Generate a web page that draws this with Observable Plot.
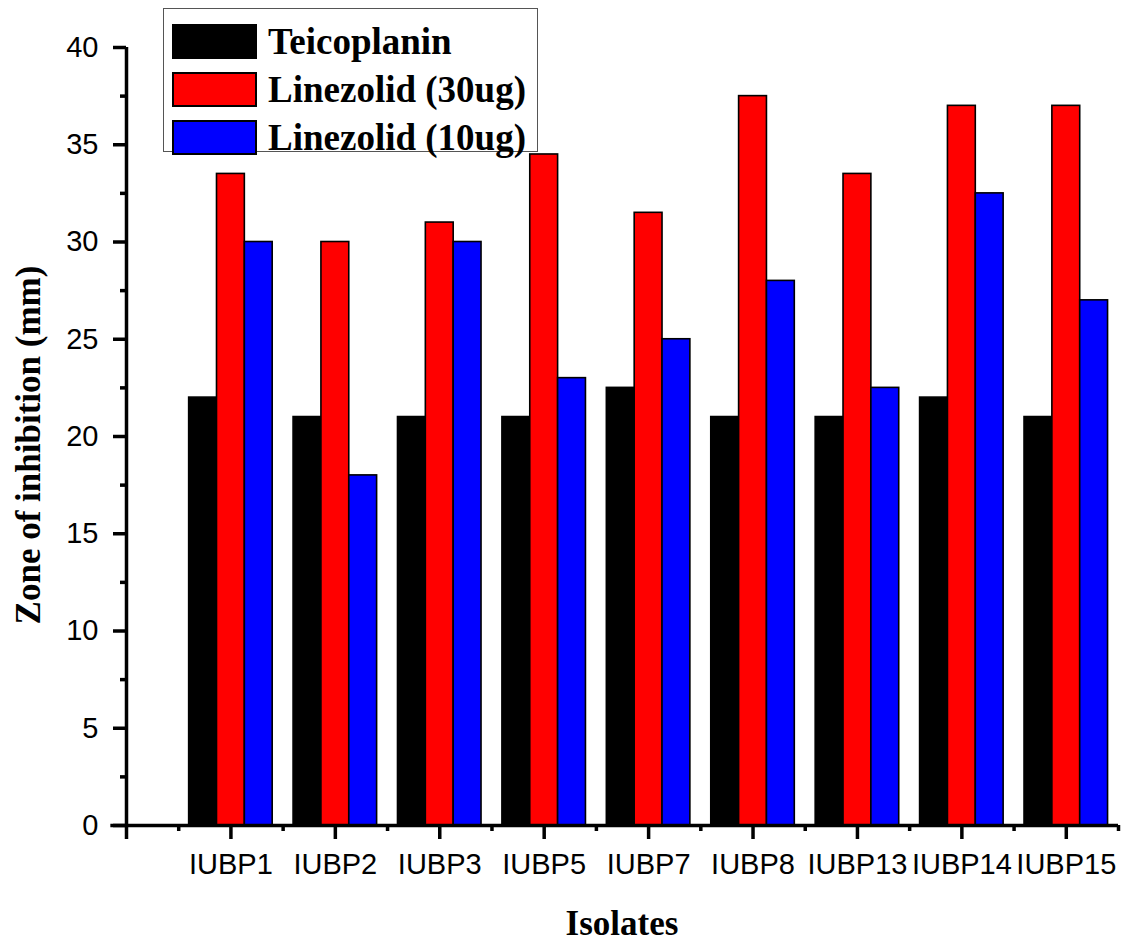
<!DOCTYPE html>
<html>
<head>
<meta charset="utf-8">
<script src="https://cdn.jsdelivr.net/npm/d3@7"></script>
<script src="https://cdn.jsdelivr.net/npm/@observablehq/plot@0.6"></script>
<style>
  body { margin: 0; background: #fff; }
  #wrap { position: relative; width: 1126px; height: 947px; }
  .ttl { position: absolute; font-family: "Liberation Serif", "DejaVu Serif", serif; font-weight: bold; font-size: 35px; color: #000; white-space: nowrap; line-height: 1; }
  #legend { position: absolute; left: 163px; top: 8px; width: 375px; height: 144px; border: 1.5px solid #555; background: #fff; box-sizing: border-box; padding-top: 8px; }
  .row { display: flex; align-items: center; height: 48px; }
  .sw { width: 81px; height: 31px; border: 2px solid #000; margin-left: 8px; margin-right: 11px; box-sizing: content-box; }
  .lt { font-family: "Liberation Serif", serif; font-weight: bold; font-size: 37px; line-height: 1; }
</style>
</head>
<body>
<div id="wrap"></div>
<script>
const categories = ["IUBP1", "IUBP2", "IUBP3", "IUBP5", "IUBP7", "IUBP8", "IUBP13", "IUBP14", "IUBP15"];
const seriesNames = ["Teicoplanin", "Linezolid (30ug)", "Linezolid (10ug)"];
const seriesColors = ["#000000", "#ff0000", "#0000ff"];
const teicoplanin = [22, 21, 21, 21, 22.5, 21, 21, 22, 21];
const linezolid30 = [33.5, 30, 31, 34.5, 31.5, 37.5, 33.5, 37, 37];
const linezolid10 = [30, 18, 30, 23, 25, 28, 22.5, 32.5, 27];
const yMajor = [0, 5, 10, 15, 20, 25, 30, 35, 40];

const seriesValues = [teicoplanin, linezolid30, linezolid10];
const groupWidth = 0.8;
const barW = groupWidth / seriesValues.length;
const rows = [];
categories.forEach((c, i) => {
  seriesValues.forEach((vals, k) => {
    const x1 = (i + 1) - groupWidth / 2 + k * barW;
    rows.push({category: c, series: seriesNames[k], x1, x2: x1 + barW, value: vals[i]});
  });
});

const xMajor = d3.range(0, categories.length + 1);
const xMinor = xMajor.map(d => d + 0.5);
const yMinor = yMajor.slice(0, -1).map(d => d + 2.5);

const chart = Plot.plot({
  width: 1126,
  height: 947,
  marginLeft: 126,
  marginRight: 8,
  marginTop: 47,
  marginBottom: 122,
  style: {fontFamily: "Liberation Sans, Arial, sans-serif", fontSize: "29px", color: "#000", background: "#fff"},
  x: {type: "linear", domain: [0, categories.length + 0.5]},
  y: {domain: [0, 40]},
  color: {domain: seriesNames, range: seriesColors},
  marks: [
    Plot.rect(rows, {x1: "x1", x2: "x2", y1: 0, y2: "value", fill: "series", stroke: "#000", strokeWidth: 1.6}),
    Plot.axisY({ticks: yMajor, tickSize: 13, tickPadding: 15, strokeWidth: 3.5, label: null, fontSize: 29}),
    Plot.axisY({ticks: yMinor, tickSize: 6, strokeWidth: 3.5, tickFormat: () => "", label: null}),
    Plot.axisX({ticks: xMajor, tickSize: 14, tickPadding: 14, strokeWidth: 3.5, label: null, fontSize: 29,
      tickFormat: d => (d >= 1 && d <= categories.length) ? categories[d - 1] : ""}),
    Plot.axisX({ticks: xMinor, tickSize: 6, strokeWidth: 3.5, tickFormat: () => "", label: null}),
    Plot.ruleX([0], {y1: 0, y2: 40, stroke: "#000", strokeWidth: 3.5}),
    Plot.ruleY([0], {x1: -0.15, x2: categories.length + 0.5, stroke: "#000", strokeWidth: 3.5})
  ]
});

const wrap = document.getElementById("wrap");
wrap.appendChild(chart);

const xt = document.createElement("div");
xt.className = "ttl";
xt.textContent = "Isolates";
xt.style.left = "622px";
xt.style.top = "906px";
xt.style.transform = "translateX(-50%)";
wrap.appendChild(xt);

const yt = document.createElement("div");
yt.className = "ttl";
yt.textContent = "Zone of inhibition (mm)";
yt.style.left = "28px";
yt.style.top = "445px";
yt.style.transform = "translate(-50%, -50%) rotate(-90deg)";
wrap.appendChild(yt);

const lg = document.createElement("div");
lg.id = "legend";
seriesNames.forEach((n, k) => {
  const r = document.createElement("div");
  r.className = "row";
  const s = document.createElement("div");
  s.className = "sw";
  s.style.background = seriesColors[k];
  const t = document.createElement("div");
  t.className = "lt";
  t.textContent = n;
  r.appendChild(s); r.appendChild(t);
  lg.appendChild(r);
});
wrap.appendChild(lg);
</script>
</body>
</html>
